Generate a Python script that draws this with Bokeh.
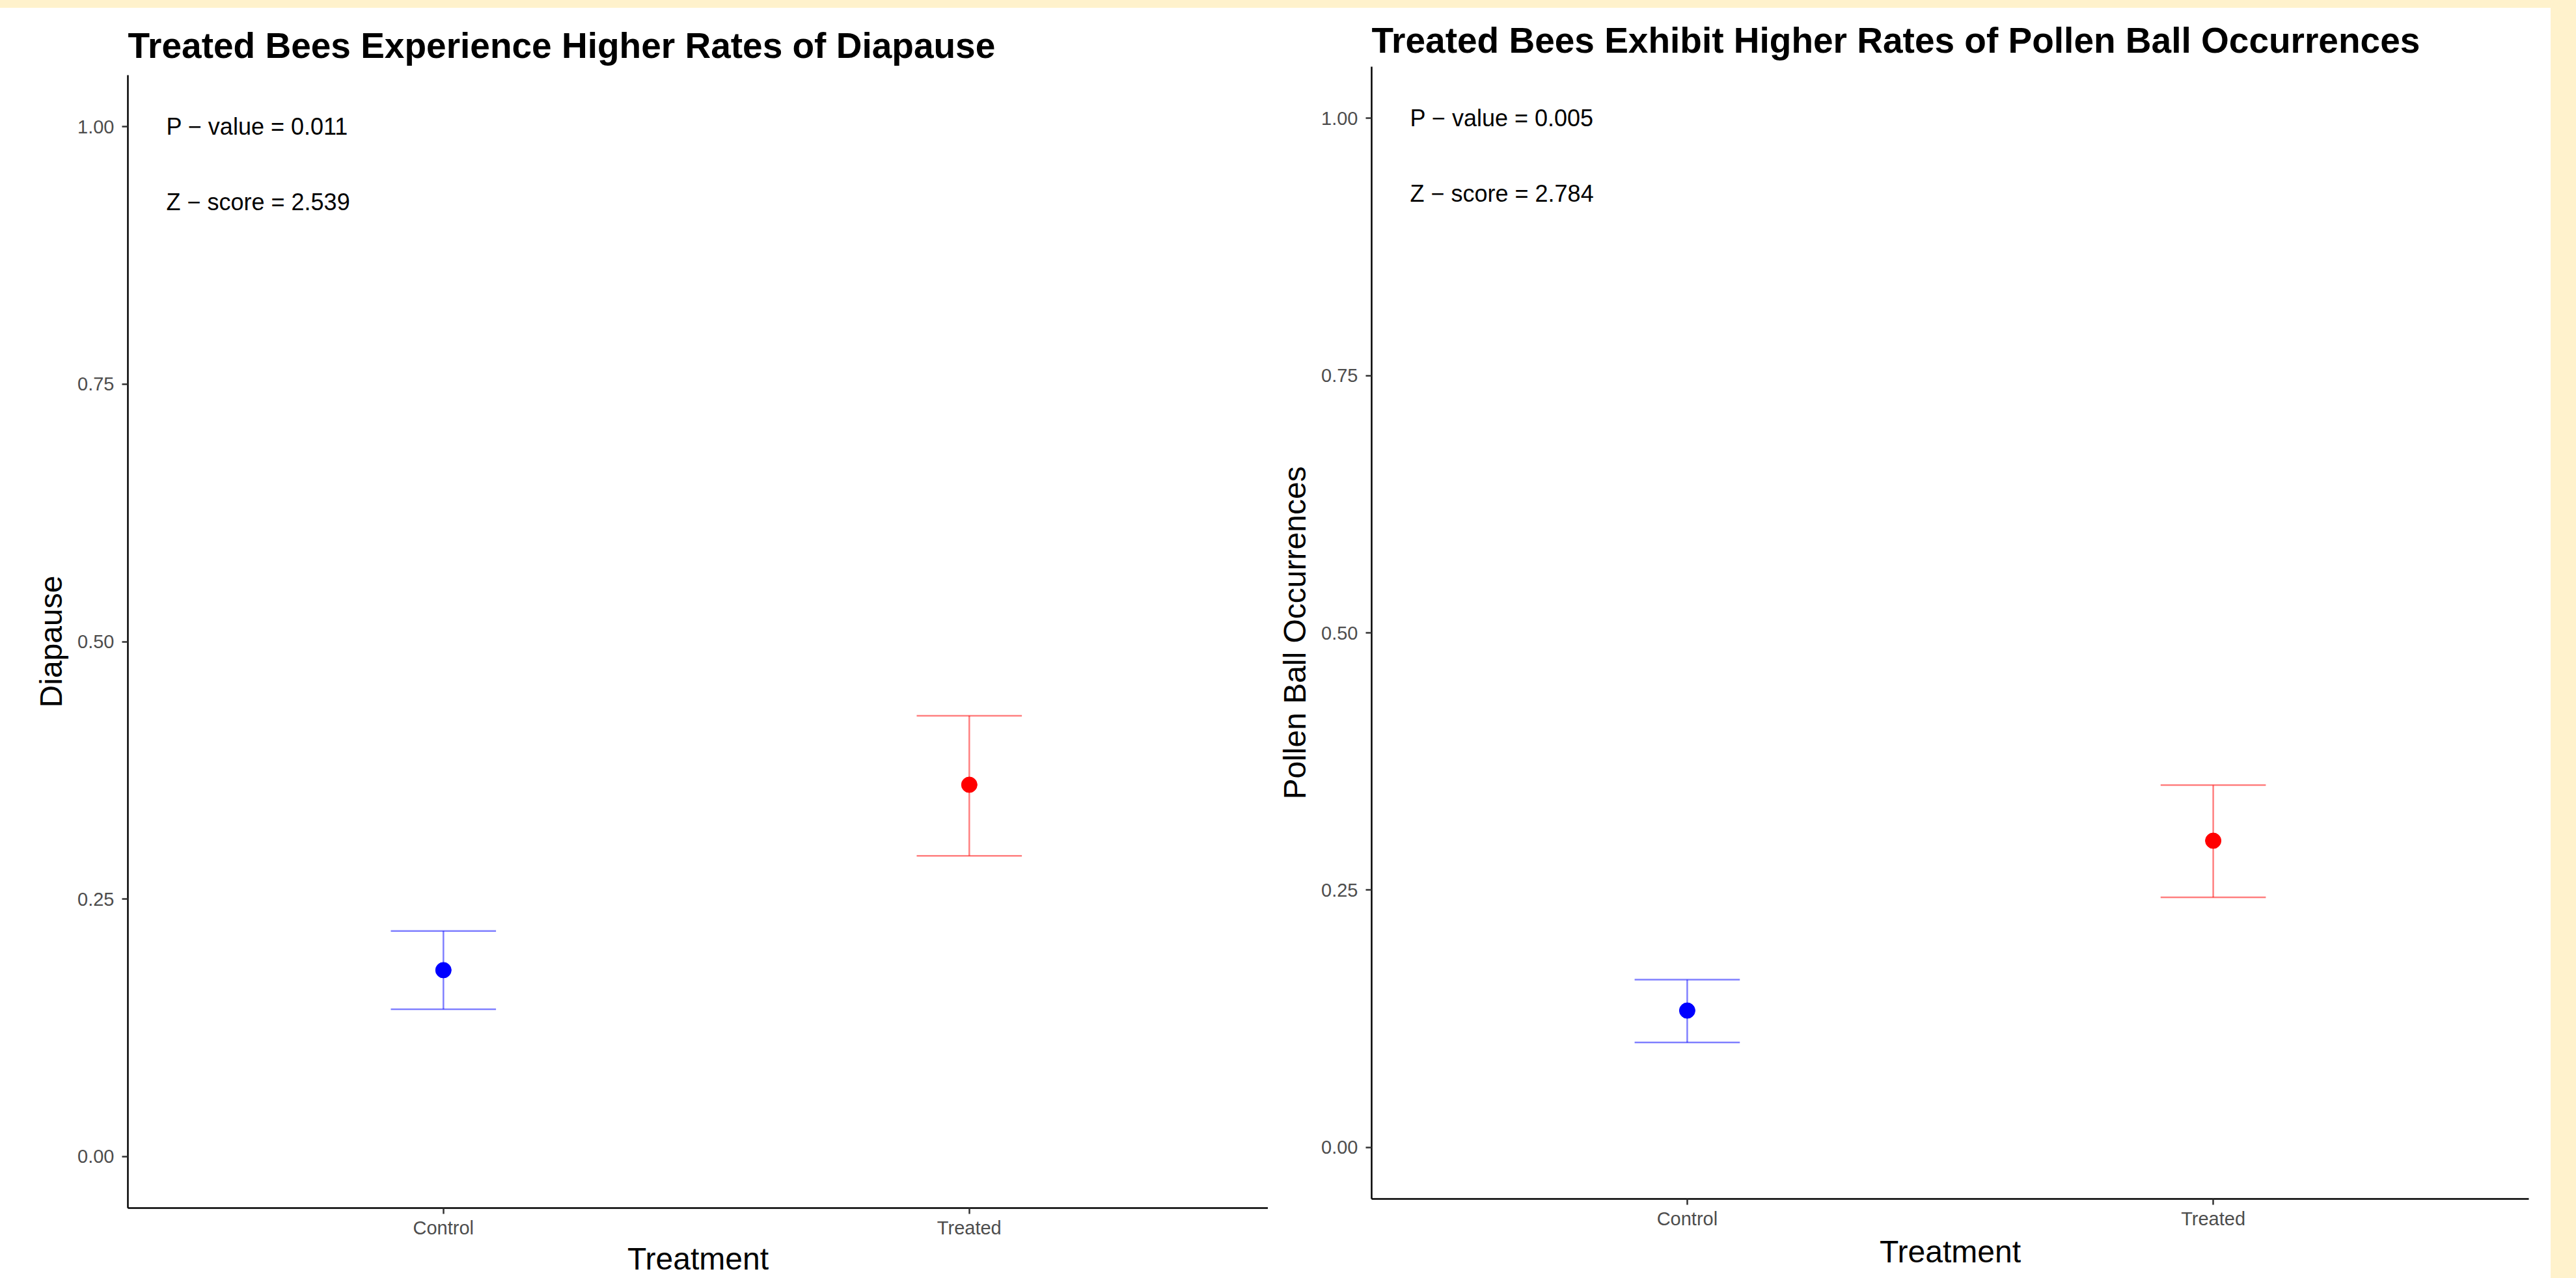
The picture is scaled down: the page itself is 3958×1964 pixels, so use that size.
from bokeh.plotting import figure
from bokeh.layouts import row, column
from bokeh.models import Range1d, FixedTicker, PrintfTickFormatter, Div, ColumnDataSource
from bokeh.core.properties import value
from bokeh.embed import file_html
from bokeh.resources import INLINE

# ---------------- data ----------------
categories = ["Control", "Treated"]
colors = ["blue", "red"]
y_ticks = [0.0, 0.25, 0.5, 0.75, 1.0]

diapause_mean = [0.181, 0.361]
diapause_lower = [0.143, 0.292]
diapause_upper = [0.219, 0.428]
diapause_stats = ["P \u2212 value = 0.011", "Z \u2212 score = 2.539"]

pollen_mean = [0.133, 0.298]
pollen_lower = [0.102, 0.243]
pollen_upper = [0.163, 0.352]
pollen_stats = ["P \u2212 value = 0.005", "Z \u2212 score = 2.784"]

FONT = "Liberation Sans"
BG = "#FFF2CC"


def make_panel(title, ylabel, mean, lower, upper, stats, width, height,
               b_left, b_right, b_top, b_bottom, x_end, title_standoff,
               xlabel_standoff):
    p = figure(width=width, height=height,
               x_range=Range1d(0.4, x_end), y_range=Range1d(-0.05, 1.05),
               output_backend="svg", toolbar_location=None,
               min_border_left=b_left, min_border_right=b_right,
               min_border_top=b_top, min_border_bottom=b_bottom)
    p.background_fill_color = "white"
    p.border_fill_color = "white"
    p.outline_line_color = None
    p.xgrid.visible = False
    p.ygrid.visible = False

    p.title.text = title
    p.title.text_font = FONT
    p.title.text_font_size = "55px"
    p.title.text_font_style = "bold"
    p.title.text_color = "black"
    p.title.align = "left"
    p.title.offset = 0
    p.title.standoff = title_standoff

    xpos = [i + 1 for i in range(len(categories))]
    src = ColumnDataSource(dict(
        x=xpos,
        x0=[x - 0.1 for x in xpos],
        x1=[x + 0.1 for x in xpos],
        mean=mean, lower=lower, upper=upper, color=colors))

    kw = dict(line_color="color", line_alpha=0.5, line_width=2.5, source=src)
    p.segment(x0="x", y0="lower", x1="x", y1="upper", **kw)
    p.segment(x0="x0", y0="upper", x1="x1", y1="upper", **kw)
    p.segment(x0="x0", y0="lower", x1="x1", y1="lower", **kw)
    p.scatter(x="x", y="mean", size=24, fill_color="color", line_color="color",
              source=src)

    p.text(x=[0.473, 0.473], y=[1.0, 0.927], text=stats,
           text_font=value(FONT), text_font_size="36px", text_color="black",
           text_align="left", text_baseline="middle")

    for ax in (p.xaxis[0], p.yaxis[0]):
        ax.axis_line_color = "black"
        ax.axis_line_width = 2.5
        ax.major_tick_line_color = "#333333"
        ax.major_tick_line_width = 2.5
        ax.major_tick_out = 9
        ax.major_tick_in = 0
        ax.minor_tick_out = 0
        ax.minor_tick_in = 0
        ax.major_label_text_font = FONT
        ax.major_label_text_font_size = "29px"
        ax.major_label_text_color = "#4D4D4D"
        ax.axis_label_text_font = FONT
        ax.axis_label_text_font_size = "48px"
        ax.axis_label_text_font_style = "normal"
        ax.axis_label_text_color = "black"

    xa = p.xaxis[0]
    xa.ticker = FixedTicker(ticks=xpos)
    xa.major_label_overrides = {x: c for x, c in zip(xpos, categories)}
    xa.axis_label = "Treatment"
    xa.major_label_standoff = 5
    xa.axis_label_standoff = xlabel_standoff

    ya = p.yaxis[0]
    ya.ticker = FixedTicker(ticks=y_ticks)
    ya.formatter = PrintfTickFormatter(format="%.2f")
    ya.axis_label = ylabel
    ya.major_label_standoff = 12
    ya.axis_label_standoff = 11
    return p


left = make_panel("Treated Bees Experience Higher Rates of Diapause", "Diapause",
                  diapause_mean, diapause_lower, diapause_upper, diapause_stats,
                  width=1948, height=1952, b_left=196, b_right=0, b_top=103,
                  b_bottom=108, x_end=0.4 + 1752 / 808, title_standoff=30,
                  xlabel_standoff=2)

right = make_panel("Treated Bees Exhibit Higher Rates of Pollen Ball Occurrences",
                   "Pollen Ball Occurrences",
                   pollen_mean, pollen_lower, pollen_upper, pollen_stats,
                   width=1971, height=1952, b_left=159, b_right=34, b_top=90,
                   b_bottom=122, x_end=2.6, title_standoff=20,
                   xlabel_standoff=5)

top_band = Div(text="", width=3958, height=12, margin=0,
               styles={"background-color": BG})
right_band = Div(text="", width=39, height=1952, margin=0,
                 styles={"background-color": BG})

# each panel in its own column so that Bokeh does not align the two frames
layout = column(top_band,
                row(column(left, spacing=0), column(right, spacing=0),
                    right_band, spacing=0),
                spacing=0)

open("out.html", "w").write(file_html(layout, INLINE))
